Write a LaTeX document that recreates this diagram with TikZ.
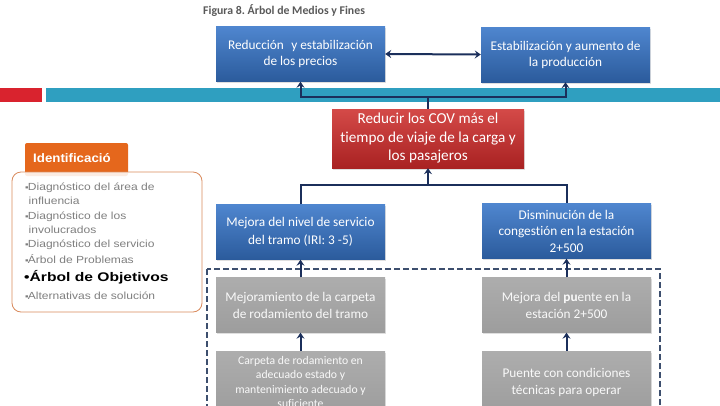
\documentclass[tikz,border=0pt]{standalone}
\usepackage{fontspec}
\setmainfont{Carlito}[Ligatures=NoCommon]
\newfontfamily\lf[FakeStretch=1.17]{Liberation Sans}
\newfontfamily\lfb[FakeStretch=1.25]{Liberation Sans Bold}
\newfontfamily\tabf[FakeStretch=1.08]{Liberation Sans Bold}
\usetikzlibrary{arrows.meta,shadows}
\definecolor{blueT}{HTML}{4F86CF}
\definecolor{blueB}{HTML}{2B5B9C}
\definecolor{redT}{HTML}{D44A48}
\definecolor{redB}{HTML}{A92222}
\definecolor{grayT}{HTML}{ADADAD}
\definecolor{grayB}{HTML}{9D9D9D}
\definecolor{navy}{HTML}{1B2F5B}
\definecolor{dashc}{HTML}{3D4F6E}
\definecolor{barred}{HTML}{D9232E}
\definecolor{barteal}{HTML}{2F9FC0}
\definecolor{tabor}{HTML}{E5671C}
\definecolor{boxor}{HTML}{D98A5C}
\definecolor{txtgray}{HTML}{7F7F7F}
\definecolor{titlegray}{HTML}{595959}
\tikzset{
  boxbase/.style={rectangle, inner sep=0pt, align=center, text=white,
    drop shadow={opacity=0.25, shadow xshift=1pt, shadow yshift=-1.5pt}},
  bluebox/.style={boxbase, minimum width=169pt, minimum height=55pt,
    top color=blueT, bottom color=blueB, font=\fontsize{13.3}{16.5}\selectfont},
  redbox/.style={boxbase, minimum width=192pt, minimum height=59pt,
    top color=redT, bottom color=redB, font=\fontsize{15.2}{18.5}\selectfont},
  graybox/.style={boxbase, minimum width=169pt, minimum height=55pt,
    top color=grayT, bottom color=grayB, text=white!95!gray, font=\fontsize{13.3}{17}\selectfont},
  tipnavy/.tip={Stealth[length=6pt,width=8pt,inset=2.2pt]},
  arr/.style={draw=navy, line width=2pt, -tipnavy},
  conn/.style={draw=navy, line width=2pt},
  leftline/.style={anchor=base west, inner sep=0pt, text=txtgray, font=\lf\fontsize{10.3}{12}\selectfont}
}
\newcommand{\sqb}{{\fontsize{8.5}{8.5}\selectfont ▪}\kern-0.8pt}
\begin{document}
\frenchspacing
\begin{tikzpicture}[x=1pt,y=-1pt]
\useasboundingbox (0,0) rectangle (720,405);
\clip (0,0) rectangle (720,405);
% bars
\fill[barred] (0,88) rectangle (42,102);
\fill[barteal] (46,88) rectangle (720,102);
% title
\node[anchor=west, inner sep=0pt, text=titlegray, font=\bfseries\fontsize{11.8}{13}\selectfont] (title) at (203,11) {Figura 8. Árbol de Medios y Fines};
% top boxes
\node[bluebox, font=\fontsize{13.3}{16}\selectfont] (b1) at (300.5,54) {Reducción\,\, y estabilización\\de los precios};
\node[bluebox, font=\fontsize{13.3}{16}\selectfont] (b2) at (565.5,54.5) {Estabilización y aumento de\\la producción};
\node[redbox] (r) at (428,138.5) {Reducir los COV más el\\tiempo de viaje de la carga y\\los pasajeros};
\node[bluebox, font=\fontsize{13.3}{18}\selectfont] (b3) at (300.5,232) {Mejora del nivel de servicio\\del tramo (IRI: 3 -5)};
\node[bluebox] (b4) at (566.5,231) {Disminución de la\\congestión en la estación\\2+500};
% dashed frame
\draw[dashc, line width=2.2pt, dash pattern=on 6pt off 3pt] (207,269) rectangle (660,430);
\node[graybox] (g5) at (300.5,305) {Mejoramiento de la carpeta\\de rodamiento del tramo};
\node[graybox] (g6) at (566.5,305) {Mejora del \textbf{pu}ente en la\\estación 2+500};
\node[graybox, minimum height=62pt, font=\fontsize{11.7}{14.2}\selectfont] (g7) at (300.5,382) {Carpeta de rodamiento en\\adecuado estado y\\mantenimiento adecuado y\\suficiente};
\node[graybox, minimum height=62pt] (g8) at (566.5,382) {Puente con condiciones\\técnicas para operar};
% connectors
\draw[navy, line width=2pt, tipnavy-tipnavy] (b1.east) -- (b2.west);
\coordinate (up) at (428,97);
\coordinate (mid) at (428,185);
\draw[conn] (r.north) -- (up);
\draw[arr] (up) -| (b1.south);
\draw[arr] (up) -| (b2.south);
\draw[conn] (b3.north) |- (mid) -| (b4.north);
\draw[arr] (mid) -- (r.south);
\draw[arr] (g5.north) -- (b3.south);
\draw[arr] (g6.north) -- (b4.south);
\draw[arr] (g7.north) -- (g5.south);
\draw[arr] (g8.north) -- (g6.south);
% left panel
\fill[tabor, rounded corners=2pt] (25,143) rectangle (128,176);
\node[anchor=west, inner sep=0pt, text=white, font=\tabf\fontsize{12.3}{14}\selectfont] (tab) at (33,158) {Identificació};
\draw[boxor, line width=0.8pt, fill=white, fill opacity=0.88, rounded corners=9pt] (12,172) rectangle (202,312);
\node[leftline] (l1) at (25,190.5) {\sqb Diagnóstico del área de};
\node[leftline] (l2) at (28.5,204.5) {influencia};
\node[leftline] (l3) at (25,219) {\sqb Diagnóstico de los};
\node[leftline] (l4) at (28.5,233) {involucrados};
\node[leftline] (l5) at (25,247.5) {\sqb Diagnóstico del servicio};
\node[leftline] (l6) at (25,263) {\sqb Árbol de Problemas};
\node[anchor=base west, inner sep=0pt, text=black, font=\lfb\fontsize{12.5}{14}\selectfont] (l7) at (24,281) {•Árbol de Objetivos};
\node[leftline] (l8) at (25,299) {\sqb Alternativas de solución};
\end{tikzpicture}
\end{document}
